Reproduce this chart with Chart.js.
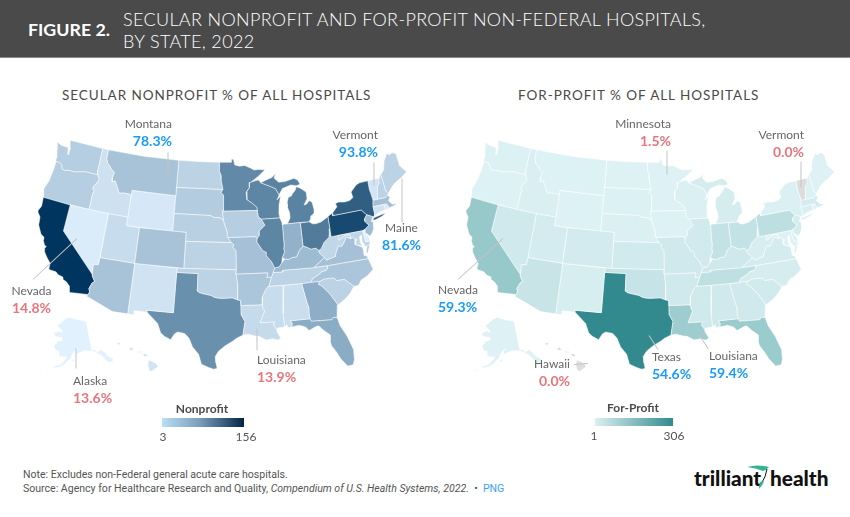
<!DOCTYPE html>
<html><head><meta charset="utf-8">
<script src="https://cdn.jsdelivr.net/npm/chart.js@4"></script>
<style>
html,body{margin:0;padding:0;background:#fff}
#page{position:relative;width:850px;height:517px;overflow:hidden;font-family:Lato,sans-serif;color:#666}
#band{position:absolute;left:0;top:0;width:850px;height:58px;background:#4a4a4a;border-bottom:1px solid #8a8a8a;box-sizing:border-box}
#fig{position:absolute;left:28px;top:18px;font:700 17.8px Lato,sans-serif;color:#fff}
#ttl{position:absolute;left:123px;top:8px;font:300 18px/22px Lato,sans-serif;color:#fff;letter-spacing:.34px}
.sub{position:absolute;top:87px;font:400 13.5px Lato,sans-serif;color:#4a4a4a;letter-spacing:.95px;white-space:nowrap}
canvas{position:absolute}
.lb{position:absolute;white-space:nowrap;font:400 12px/16px Lato,sans-serif;color:#666}
.lb b{display:block;font:700 14px/17px Lato,sans-serif}
.hi{color:#1a9bfc}.lo{color:#e8757c}
.ld{position:absolute;background:#c4c4c4;transform-origin:0 50%;height:1px}
.lgt{position:absolute;font:700 12px Lato,sans-serif;color:#4a4a4a;white-space:nowrap;transform:translateX(-50%)}
.lgn{position:absolute;font:400 12px Lato,sans-serif;color:#555;white-space:nowrap;transform:translateX(-50%)}
.bar{position:absolute;height:9px}
#note{position:absolute;left:23px;top:468px;font:400 10.55px/14px Roboto,sans-serif;color:#555}
#note a{color:#3aa0f5}
.logo{position:absolute;top:465px;font:900 20.8px Lato,sans-serif;color:#111;white-space:nowrap}
</style></head><body>
<div id="page">
<div id="band"></div>
<div id="fig">FIGURE 2.</div>
<div id="ttl">SECULAR NONPROFIT AND FOR-PROFIT NON-FEDERAL HOSPITALS,<br>BY STATE, 2022</div>
<div class="sub" style="left:62px">SECULAR NONPROFIT % OF ALL HOSPITALS</div>
<div class="sub" style="left:518px">FOR-PROFIT % OF ALL HOSPITALS</div>
<canvas id="mapL" width="425" height="260" style="left:0;top:130px;width:425px;height:260px"></canvas>
<canvas id="mapR" width="425" height="260" style="left:428px;top:130px;width:425px;height:260px"></canvas>
<div id="labels"></div>
<div class="lgt" style="left:202px;top:401px">Nonprofit</div>
<div class="bar" style="left:162px;top:418px;width:82px;background:linear-gradient(90deg,#b9def7,#7c9fbb 45%,#3b5f80 75%,#04233f)"></div>
<div class="lgn" style="left:163px;top:429px">3</div><div class="lgn" style="left:246px;top:429px">156</div>
<div class="lgt" style="left:633px;top:400px">For-Profit</div>
<div class="bar" style="left:595px;top:418px;width:78px;height:8px;background:linear-gradient(90deg,#dcf0f2,#328a8e)"></div>
<div class="lgn" style="left:594px;top:428px">1</div><div class="lgn" style="left:674px;top:428px">306</div>
<div id="note">Note: Excludes non-Federal general acute care hospitals.<br>Source: Agency for Healthcare Research and Quality, <i>Compendium of U.S. Health Systems, 2022.</i> &nbsp;•&nbsp; <a>PNG</a></div>
<div class="logo" style="left:694px">trilliant</div><div class="logo" style="left:770px">health</div>
<svg style="position:absolute;left:745px;top:463px" width="36" height="28" viewBox="0 0 36 28"><path d="M2 4 Q12 1 24 4 Q21 7 18 8 Q11 5 2 4Z" fill="#2fb58f"/><path d="M22 6 Q21 14 16 21" fill="none" stroke="#111" stroke-width="1"/><path d="M19 18 Q18 22 14 26 Q14 22 15 19Z" fill="#2fb58f"/></svg>
</div>
<script>
// ---- chart data: hospital counts by state
const stateCodes = ["AL","AK","AZ","AR","CA","CO","CT","DE","DC","FL","GA","HI","ID","IL","IN","IA","KS","KY","LA","ME","MD","MA","MI","MN","MS","MO","MT","NE","NV","NH","NJ","NM","NY","NC","ND","OH","OK","OR","PA","RI","SC","SD","TN","TX","UT","VT","VA","WA","WV","WI","WY"];
const nonprofitCounts = [14,3,32,30,156,32,11,4,3,50,48,10,12,82,45,24,20,38,16,20,18,34,84,78,15,33,32,22,6,20,36,11,118,30,20,92,20,24,138,7,20,25,20,73,15,10,33,24,18,82,8];
const forProfitCounts = [20,2,33,20,110,16,8,4,1,105,20,0,8,18,40,3,18,22,100,2,2,14,12,2,20,20,3,6,20,5,12,10,7,12,2,40,35,3,50,2,18,4,48,306,15,0,15,5,10,6,3];

// ---- colour ramps (count -> colour)
const nonprofitRamp = [[3,"#e1f1fe"],[20,"#bcd3e5"],[40,"#9ab8cf"],[80,"#5f87a6"],[120,"#2f5c81"],[156,"#00355f"]];
const forProfitRamp = [[1,"#dff3f6"],[10,"#d7eef1"],[20,"#d0e9ec"],[40,"#c3e2e5"],[60,"#b8dcdf"],[110,"#97c9cb"],[306,"#328a8e"]];
const zeroColour = "#dddddd";

// ---- state outlines, longitude,latitude; "|" separates the parts of one state
const outlines = {
WA:"-117.03,49 -117.04,46.42 -116.92,45.99 -118.98,46 -119.3,45.93 -119.9,45.83 -120.5,45.7 -121.2,45.67 -121.5,45.7 -122.25,45.55 -122.75,45.65 -122.8,45.9 -123.1,46.15 -123.43,46.23 -123.95,46.25 -124.05,46.3 -124.07,46.65 -124.1,46.9 -124.4,47.6 -124.7,48.38 -123.9,48.17 -123.2,48.15 -122.75,48.15 -122.6,47.9 -122.5,47.4 -122.3,47.4 -122.35,47.9 -122.25,48.1 -122.5,48.5 -122.75,49",
OR:"-124.55,42.84 -124.2,42 -123.23,42 -120,42 -117.03,42 -117.03,43.8 -116.9,44.15 -117.2,44.4 -117.05,44.75 -116.85,44.95 -116.5,45.5 -116.92,45.99 -118.98,46 -119.3,45.93 -119.9,45.83 -120.5,45.7 -121.2,45.67 -121.5,45.7 -122.25,45.55 -122.75,45.65 -122.8,45.9 -123.1,46.15 -123.43,46.23 -123.95,46.25 -123.95,45.5 -124.05,44.7 -124.15,43.9 -124.4,43.3",
CA:"-124.21,42 -120,42 -120,39 -114.63,35 -114.57,34.8 -114.14,34.3 -114.43,34.08 -114.72,33.4 -114.52,33.03 -114.72,32.72 -117.12,32.53 -117.25,32.85 -117.35,33.2 -117.9,33.6 -118.4,33.75 -118.5,34.03 -119.2,34.15 -119.6,34.4 -120.5,34.45 -120.65,34.6 -120.65,35.15 -121.3,35.7 -121.9,36.3 -121.95,36.6 -121.8,36.85 -122.1,36.95 -122.5,37.5 -122.5,37.8 -123,38 -123.7,38.9 -123.85,39.8 -124.35,40.25 -124.4,40.45 -124.1,41 -124.2,41.75",
NV:"-120,42 -117.03,42 -114.04,42 -114.04,37 -114.05,36.2 -114.75,36.1 -114.63,35 -120,39",
ID:"-117.03,49 -116.05,49 -116.05,48 -115.7,47.45 -115.3,47.25 -114.9,46.9 -114.35,46.65 -114.5,46 -114.4,45.55 -113.95,45.7 -113.45,45.05 -113,44.45 -112.3,44.55 -111.5,44.55 -111.05,44.47 -111.05,42 -114.04,42 -117.03,42 -117.03,43.8 -116.9,44.15 -117.2,44.4 -117.05,44.75 -116.85,44.95 -116.5,45.5 -116.92,45.99 -117.04,46.42",
MT:"-116.05,49 -110,49 -104.05,49 -104.05,45 -111.05,45 -111.05,44.47 -111.5,44.55 -112.3,44.55 -113,44.45 -113.45,45.05 -113.95,45.7 -114.4,45.55 -114.5,46 -114.35,46.65 -114.9,46.9 -115.3,47.25 -115.7,47.45 -116.05,48",
WY:"-111.05,45 -104.05,45 -104.05,43 -104.05,41 -111.05,41",
UT:"-114.04,42 -111.05,42 -111.05,41 -109.05,41 -109.05,37 -114.04,37",
CO:"-109.05,41 -102.05,41 -102.05,37 -109.05,37",
AZ:"-114.75,36.1 -114.05,36.2 -114.04,37 -109.05,37 -109.05,31.33 -111.07,31.33 -114.8,32.5 -114.72,32.72 -114.52,33.03 -114.72,33.4 -114.43,34.08 -114.14,34.3 -114.57,34.8 -114.63,35",
NM:"-109.05,37 -103,37 -103,36.5 -103.06,32 -106.62,32 -106.53,31.78 -108.2,31.78 -108.2,31.33 -109.05,31.33",
ND:"-104.05,49 -100,49 -97.23,49 -97.1,48.6 -97.15,48 -96.85,47.5 -96.85,47 -96.56,45.94 -104.05,45.94",
SD:"-104.05,45.94 -96.56,45.94 -96.85,45.6 -96.45,45.3 -96.45,43.5 -96.6,43.5 -96.45,42.5 -97,42.77 -97.9,42.8 -98.5,43 -104.05,43",
NE:"-104.05,43 -98.5,43 -97.9,42.8 -97,42.77 -96.45,42.5 -96.2,41.9 -95.9,41.2 -95.85,40.7 -95.31,40 -102.05,40 -102.05,41 -104.05,41",
KS:"-102.05,40 -95.31,40 -94.9,39.75 -95.1,39.5 -94.61,39.1 -94.62,37 -102.05,37",
OK:"-103,37 -94.62,37 -94.62,36.5 -94.43,35.4 -94.48,33.64 -95.2,33.88 -95.8,33.85 -96.6,33.83 -97.2,33.85 -97.7,33.95 -98.1,34.13 -99.2,34.3 -99.7,34.4 -100,34.56 -100,36.5 -103,36.5",
TX:"-103.03,36.5 -100,36.5 -100,34.56 -99.7,34.4 -99.2,34.3 -98.1,34.13 -97.7,33.95 -97.2,33.85 -96.6,33.83 -95.8,33.85 -95.2,33.88 -94.48,33.64 -94.04,33.55 -94.04,33 -94.04,31.99 -93.55,31.2 -93.7,30.5 -93.85,29.7 -94.7,29.35 -95.15,29.05 -96.2,28.5 -97,27.9 -97.4,27.3 -97.3,26.6 -97.15,25.95 -97.6,25.87 -98.2,26.05 -99.1,26.4 -99.5,27.5 -100.3,28.3 -100.8,29.25 -101.4,29.77 -102.3,29.88 -102.7,29.65 -103.15,28.97 -104,29.3 -104.5,29.65 -105,30.65 -106.53,31.78 -106.62,32 -103.06,32",
MN:"-97.23,49 -95.15,49 -95.15,49.38 -94.8,49.33 -94.6,48.7 -93.8,48.55 -92.95,48.62 -92,48.3 -91.4,48.05 -90.75,48.1 -89.6,48 -90.8,47.3 -92,46.7 -92.29,46.66 -92.29,46.1 -92.85,45.6 -92.75,45 -92.75,44.75 -91.9,44.3 -91.25,43.85 -91.22,43.5 -96.45,43.5 -96.45,45.3 -96.85,45.6 -96.56,45.94 -96.85,47 -96.85,47.5 -97.15,48 -97.1,48.6",
IA:"-96.6,43.5 -91.22,43.5 -91.1,42.75 -90.65,42.5 -90.15,41.8 -91.05,41.2 -91.1,40.7 -91.42,40.38 -91.73,40.61 -95.77,40.58 -95.85,40.7 -95.9,41.2 -96.2,41.9 -96.45,42.5",
MO:"-95.77,40.58 -91.73,40.61 -91.42,40.38 -91.5,40 -90.7,39 -90.2,38.8 -90.2,38.4 -89.55,37.75 -89.15,37 -89.4,36.5 -89.7,36 -90.37,36 -90.15,36.5 -94.62,36.5 -94.62,37 -94.61,39.1 -95.1,39.5 -94.9,39.75 -95.31,40",
AR:"-94.62,36.5 -90.15,36.5 -90.37,36 -89.7,36 -90.1,35.1 -90.6,34.7 -91.1,33.9 -91.17,33 -94.04,33 -94.04,33.55 -94.48,33.64 -94.43,35.4",
LA:"-94.04,33 -91.17,33 -91.1,32.5 -90.9,32.3 -91.6,31 -89.73,31 -89.85,30.65 -89.5,30.18 -89.4,29.8 -89,29.15 -89.4,28.95 -90.1,29.15 -90.9,29.05 -91.8,29.5 -92.3,29.55 -93.2,29.78 -93.85,29.7 -93.7,30.5 -93.55,31.2 -94.04,31.99",
MS:"-91.17,33 -91.1,33.9 -90.6,34.7 -90.3,35 -88.2,35 -88.1,34.9 -88.47,31.9 -88.4,30.37 -89.3,30.3 -89.5,30.18 -89.85,30.65 -89.73,31 -91.6,31 -90.9,32.3 -91.1,32.5",
AL:"-88.2,35 -85.6,34.98 -85.18,32.87 -85,32.3 -85.05,31.5 -85,31 -87.6,31 -87.4,30.65 -87.5,30.3 -88,30.25 -88.1,30.6 -88.4,30.37 -88.47,31.9 -88.1,34.9",
TN:"-90.1,35.1 -89.7,36 -89.4,36.5 -88.05,36.5 -88.07,36.68 -83.68,36.6 -81.68,36.59 -81.7,36.3 -82,36.1 -82.6,36.03 -83.1,35.75 -84,35.4 -84.32,35 -85.6,34.98 -88.2,35 -90.3,35",
KY:"-89.4,36.5 -89.15,37 -88.5,37.1 -88.1,37.5 -87.6,37.9 -87.1,37.8 -86.5,38 -85.9,38 -85.4,38.7 -84.8,39.1 -84.3,38.95 -83.7,38.65 -83,38.7 -82.6,38.4 -82.6,38.15 -81.97,37.54 -83.68,36.6 -88.07,36.68 -88.05,36.5",
IL:"-91.5,40 -91.42,40.38 -91.1,40.7 -91.05,41.2 -90.15,41.8 -90.65,42.5 -87.8,42.5 -87.55,41.95 -87.52,41.7 -87.53,39.35 -87.65,39.1 -87.55,38.7 -87.95,38.1 -88.1,37.5 -88.5,37.1 -89.15,37 -89.55,37.75 -90.2,38.4 -90.2,38.8 -90.7,39",
IN:"-87.52,41.7 -87.2,41.77 -86.8,41.76 -84.8,41.76 -84.8,39.1 -85.4,38.7 -85.9,38 -86.5,38 -87.1,37.8 -87.6,37.9 -87.95,38.1 -87.55,38.7 -87.65,39.1 -87.53,39.35",
OH:"-84.8,41.7 -83.45,41.73 -83,41.45 -82.5,41.4 -81.7,41.5 -80.52,41.97 -80.52,40.64 -80.65,40.4 -80.85,39.7 -81.7,39.2 -82.2,38.6 -82.6,38.4 -83,38.7 -83.7,38.65 -84.3,38.95 -84.8,39.1",
MI:"-86.8,41.76 -84.8,41.76 -83.45,41.73 -83.15,42.05 -83.1,42.3 -82.5,42.6 -82.45,43 -82.6,43.85 -83,44.05 -83.5,43.7 -83.9,43.65 -83.3,44.3 -83.3,45.05 -84.2,45.6 -84.75,45.78 -85,45.4 -85.55,45 -85.7,44.8 -86.2,44.7 -86.5,44.05 -86.5,43.6 -86.25,43 -86.25,42.4 -86.55,42|-90.4,46.57 -89.6,46.83 -88.5,47.1 -87.9,47.47 -88.2,47 -87.5,46.5 -86.5,46.5 -85,46.75 -84.4,46.5 -84.1,46 -84.75,45.9 -85.6,46.05 -86.3,45.9 -87,45.75 -87.6,45.1 -87.8,45.35 -88.1,45.8 -88.9,46.1",
WI:"-92.29,46.66 -92,46.7 -91.2,46.85 -90.75,46.9 -90.4,46.57 -88.9,46.1 -88.1,45.8 -87.8,45.35 -87.6,45.1 -88,44.55 -87.4,44.9 -87.75,44 -87.9,43 -87.8,42.5 -90.65,42.5 -91.1,42.75 -91.22,43.5 -91.25,43.85 -91.9,44.3 -92.75,44.75 -92.75,45 -92.85,45.6 -92.29,46.1",
GA:"-85.6,34.98 -84.32,35 -83.1,35 -83.35,34.7 -82.9,34.45 -82,33.5 -81.4,32.6 -81.1,32.1 -81.45,30.7 -81.95,30.82 -82.2,30.57 -84.86,30.7 -85,31 -85.05,31.5 -85,32.3 -85.18,32.87",
FL:"-87.6,31 -85,31 -84.86,30.7 -82.2,30.57 -81.95,30.82 -81.45,30.7 -81.25,29.8 -80.55,28.45 -80.05,26.9 -80.15,25.75 -80.4,25.2 -81.1,25.15 -81.8,26.1 -82.2,26.9 -82.7,27.7 -82.8,28.2 -82.65,28.9 -83.4,29.5 -84,30.1 -84.35,30.05 -85.3,29.7 -85.7,30.15 -86.5,30.4 -87.5,30.3 -87.4,30.65",
SC:"-83.1,35 -82.4,35.2 -81.05,35.15 -80.8,34.82 -79.67,34.8 -78.55,33.86 -79.2,33.2 -79.9,32.7 -81.1,32.1 -81.4,32.6 -82,33.5 -82.9,34.45 -83.35,34.7",
NC:"-84.32,35 -84,35.4 -83.1,35.75 -82.6,36.03 -82,36.1 -81.7,36.3 -81.68,36.59 -75.87,36.55 -75.5,35.3 -76.5,34.7 -77.4,34.4 -77.95,33.85 -78.55,33.86 -79.67,34.8 -80.8,34.82 -81.05,35.15 -82.4,35.2 -83.1,35",
VA:"-83.68,36.6 -81.97,37.54 -81.7,37.2 -81.3,37.3 -80.3,37.5 -80.3,37.7 -79.95,38.2 -79.65,38.6 -79.3,38.42 -78.87,38.77 -78.35,39.4 -77.83,39.13 -77.45,39.22 -77.05,38.85 -77.3,38.4 -76.95,38.25 -76.3,37.9 -76.3,37.5 -76.35,37 -76,36.9 -75.87,36.55 -81.68,36.59|-75.97,37.15 -75.65,37.95 -75.25,38.03 -75.75,37.2",
WV:"-81.97,37.54 -82.6,38.15 -82.6,38.4 -82.2,38.6 -81.7,39.2 -80.85,39.7 -80.65,40.4 -80.52,40.64 -80.52,39.72 -79.48,39.72 -79.48,39.2 -78.4,39.62 -77.83,39.6 -77.72,39.32 -77.83,39.13 -78.35,39.4 -78.87,38.77 -79.3,38.42 -79.65,38.6 -79.95,38.2 -80.3,37.7 -80.3,37.5 -81.3,37.3 -81.7,37.2",
MD:"-79.48,39.72 -75.79,39.72 -75.7,38.46 -75.05,38.45 -75.25,38.03 -75.65,37.95 -75.9,37.95 -76.2,38.6 -76.1,39.3 -76.45,39.1 -76.5,38.5 -76.3,38.05 -76.95,38.25 -77.3,38.4 -77.05,38.85 -77.45,39.22 -77.83,39.13 -77.72,39.32 -77.83,39.6 -78.4,39.62 -79.48,39.2",
DE:"-75.79,39.72 -75.42,39.8 -75.55,39.45 -75.1,38.8 -75.05,38.45 -75.7,38.46",
DC:"-77.12,38.93 -77.04,39 -76.91,38.89 -77.04,38.79",
PA:"-80.52,41.97 -80.1,42.16 -79.76,42.27 -79.76,42 -75.35,42 -74.7,41.35 -75.1,41 -75.2,40.7 -74.72,40.15 -75.42,39.8 -75.79,39.72 -80.52,39.72",
NJ:"-74.7,41.35 -73.9,41 -74.25,40.5 -74,40.45 -74.1,39.75 -74.45,39.3 -74.9,38.95 -75.55,39.5 -75.42,39.8 -74.72,40.15 -75.2,40.7 -75.1,41",
NY:"-79.76,42.27 -79.76,42 -75.35,42 -74.7,41.35 -73.9,41 -73.65,41 -73.5,41.3 -73.48,42.05 -73.27,42.75 -73.35,43.6 -73.43,44 -73.34,45.01 -74.7,45 -75.3,44.85 -76.3,44.2 -76.2,43.55 -76.8,43.3 -77.6,43.25 -78.5,43.37 -79.05,43.27 -78.9,42.9|-74.02,40.6 -73.75,40.85 -72.6,40.98 -71.87,41.07 -72.5,40.8 -73.6,40.58",
CT:"-73.48,42.05 -71.8,42.02 -71.8,41.4 -72.9,41.25 -73.65,41 -73.5,41.3",
RI:"-71.8,42.02 -71.38,42.02 -71.15,41.5 -71.8,41.35",
MA:"-73.27,42.75 -72.46,42.73 -71.3,42.7 -70.9,42.88 -70.6,42.65 -71,42.3 -70.55,41.8 -70,41.8 -70.2,42.07 -69.95,41.7 -70.65,41.55 -71.15,41.5 -71.38,42.02 -71.8,42.02 -73.48,42.05",
VT:"-73.34,45.01 -71.5,45.01 -71.6,44.5 -72.05,44.1 -72.3,43.6 -72.45,43 -72.46,42.73 -73.27,42.75 -73.35,43.6 -73.43,44",
NH:"-71.5,45.01 -71.3,45.3 -71.08,45.3 -70.98,43.4 -70.7,43.07 -70.9,42.88 -71.3,42.7 -72.46,42.73 -72.45,43 -72.3,43.6 -72.05,44.1 -71.6,44.5",
ME:"-71.08,45.3 -70.4,45.8 -70.25,46.2 -70,46.7 -69.23,47.46 -68.9,47.2 -68.3,47.36 -67.8,47.07 -67.8,45.7 -67.45,45.3 -67,44.85 -68,44.4 -69,44.1 -69.8,43.75 -70.7,43.07 -70.98,43.4",
AK:"-141,69.65 -141,60.3 -139,60 -137.5,58.9 -135.5,59.8 -133.5,58.4 -131.8,56.6 -130,55.9 -130.5,54.9 -133,54.9 -134.5,56.2 -136,57.9 -137.5,58.5 -139.8,59.6 -142,60 -145,60.3 -148,60 -149.7,59.8 -151.8,59.2 -151.4,60.7 -150,61.2 -152.5,60.3 -153.9,59.2 -154.5,58.1 -156.5,57.2 -158.5,56 -161,55.2 -163,54.8 -164.5,54.6 -163,55.5 -160.5,56 -158,57.6 -157.3,58.8 -158.8,58.4 -160,58.6 -162,58.6 -162,60 -164.5,60.3 -165.4,61.1 -166,61.7 -164.8,62.6 -164.7,63.1 -162.5,63.5 -161,63.9 -161.5,64.7 -163,64.55 -166.5,64.7 -168.1,65.6 -164.5,66.5 -163.7,66.6 -162,66.2 -161.9,66.8 -163.7,67.2 -166.8,68.35 -164.5,68.9 -163,69.7 -161,70.4 -156.6,71.35 -152,70.85 -148,70.4 -144,70|-152.5,58 -154,57.5 -153,57 -152.2,57.6|-166.8,53.95 -168,53.4 -167.6,53.3 -166.3,53.7|-170,52.95 -169.2,52.85 -170.1,52.7|-174.5,52.2 -173,52.15 -174.5,52|-177,51.95 -176,51.9 -177,51.7",
HI:"-155.9,20.25 -155.1,19.85 -154.8,19.5 -155.6,18.95 -155.9,19.1 -156.05,19.7|-156.7,20.9 -156.3,20.95 -156,20.75 -156.4,20.58 -156.55,20.8|-158.28,21.55 -158,21.7 -157.7,21.35 -158.1,21.3|-159.75,22.1 -159.4,22.2 -159.3,22 -159.6,21.9|-157.3,21.2 -156.7,21.15 -156.9,21.05 -157.3,21.1"
};

// ---- callouts: place, percentage, anchor x, top, class, alignment
const calloutsText = [
["Montana","78.3%",172,116,"hi","right"],["Vermont","93.8%",378,127,"hi","right"],["Maine","81.6%",401.5,220,"hi","center"],["Nevada","14.8%",31.5,283,"lo","center"],["Louisiana","13.9%",257,352,"lo","left"],["Alaska","13.6%",73,373,"lo","left"],
["Minnesota","1.5%",671,116,"lo","right"],["Vermont","0.0%",804,127,"lo","right"],["Nevada","59.3%",438,282,"hi","left"],["Hawaii","0.0%",570,356,"lo","right"],["Texas","54.6%",652,349,"hi","left"],["Louisiana","59.4%",709,348,"hi","left"]];
const leaderLines = [[168,152,168,173],[374,162,374,185],[401.5,178,401.5,222],[33,279,77,238],[257,328,257,350],[76,348,76,368],[667,150,667,174],[800.5,161,800.5,187],[458,279,503,238],[649,335,658,349],[699,334,708,348],[574,364,588,363]];

// ---- projections (conic equal-area, unit sphere)
function conic(lon0,p1,p2,latO){
  const r=Math.PI/180,s1=Math.sin(p1*r),s2=Math.sin(p2*r),n=(s1+s2)/2,c=Math.cos(p1*r)**2+2*n*s1;
  const rho=l=>Math.sqrt(c-2*n*Math.sin(l*r))/n, rho0=rho(latO);
  return (lon,lat)=>{const t=n*(lon-lon0)*r,ro=rho(lat);return {x:ro*Math.sin(t),y:rho0-ro*Math.cos(t)};};
}
const lower48=conic(-96,29.5,45.5,37.5), akBase=conic(-154,55,65,58.5), hiBase=conic(-157,8,18,19.9);
function project(code,lon,lat){
  if(code==="AK"){const p=akBase(lon,lat),c=akBase(-156,58.5);return {x:(p.x-c.x)*.35-.309,y:(p.y-c.y)*.35-.18};}
  if(code==="HI"){const p=hiBase(lon,lat),c=hiBase(-160,19.9);return {x:(p.x-c.x)-.219,y:(p.y-c.y)-.191};}
  return lower48(lon,lat);
}
function hex(c){return [1,3,5].map(i=>parseInt(c.substr(i,2),16));}
function shade(v,ramp){
  if(v===0) return zeroColour;
  if(v<=ramp[0][0]) return ramp[0][1];
  for(let i=1;i<ramp.length;i++){ if(v<=ramp[i][0]){
    const f=(v-ramp[i-1][0])/(ramp[i][0]-ramp[i-1][0]),a=hex(ramp[i-1][1]),b=hex(ramp[i][1]);
    return "rgb("+a.map((q,j)=>Math.round(q+(b[j]-q)*f)).join(",")+")";}}
  return ramp[ramp.length-1][1];
}
function mapDatasets(values,ramp){
  const ds=[];
  stateCodes.forEach((code,i)=>{
    outlines[code].split("|").forEach(part=>{
      const pts=part.trim().split(/\s+/).map(t=>{const [a,b]=t.split(",").map(Number);return project(code,a,b);});
      pts.push(pts[0]);
      ds.push({label:code,data:pts,showLine:true,fill:"shape",tension:0,pointRadius:0,borderWidth:.5,borderColor:"#ffffff",backgroundColor:shade(values[i],ramp),clip:false});
    });
  });
  return ds;
}
function drawMap(id,values,ramp){
  new Chart(document.getElementById(id),{type:"scatter",data:{datasets:mapDatasets(values,ramp)},
   options:{responsive:false,animation:false,events:[],layout:{padding:0},
    plugins:{legend:{display:false},tooltip:{enabled:false},title:{display:false}},
    scales:{x:{type:"linear",display:false,min:-.4431,max:.3886},y:{type:"linear",display:false,min:-.2442,max:.2646}}}});
}
drawMap("mapL",nonprofitCounts,nonprofitRamp);
drawMap("mapR",forProfitCounts,forProfitRamp);

// ---- callouts
const box=document.getElementById("labels");
leaderLines.forEach(([a,b,c,d])=>{const e=document.createElement("div");e.className="ld";
  e.style.cssText="left:"+a+"px;top:"+b+"px;width:"+Math.hypot(c-a,d-b)+"px;transform:rotate("+Math.atan2(d-b,c-a)+"rad)";box.appendChild(e);});
calloutsText.forEach(([n,v,x,y,k,al])=>{const e=document.createElement("div");e.className="lb";e.style.left=x+"px";e.style.top=y+"px";e.style.textAlign=al;
  e.style.transform=al==="right"?"translateX(-100%)":al==="center"?"translateX(-50%)":"none";
  e.innerHTML=n+'<b class="'+k+'">'+v+"</b>";box.appendChild(e);});
</script>
</body></html>
